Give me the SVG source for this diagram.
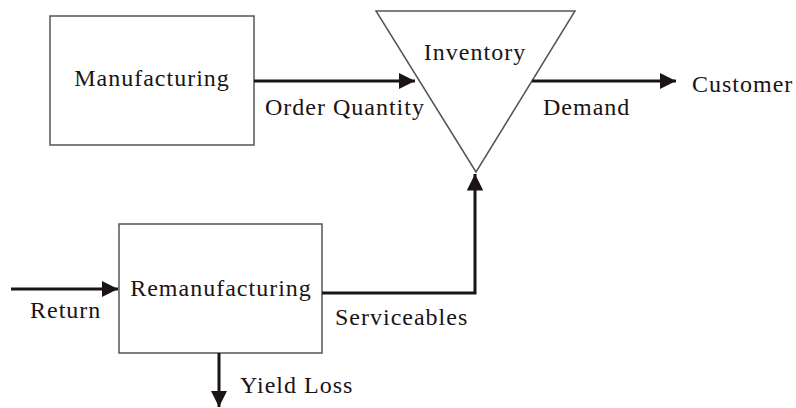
<svg xmlns="http://www.w3.org/2000/svg" width="796" height="408" viewBox="0 0 796 408">
  <style>
    .box { fill: #fff; stroke: #555; stroke-width: 1.5; }
    .flow { fill: none; stroke: #1a1414; stroke-width: 3; }
    .lbl { font-family: "Liberation Serif", "Times New Roman", serif; font-size: 24px; letter-spacing: 1px; fill: #1a1414; }
  </style>
  <defs>
    <marker id="head" viewBox="0 0 10 10" refX="10" refY="5" markerWidth="5.5" markerHeight="5.5" orient="auto" markerUnits="strokeWidth">
      <path d="M0,0 L10,5 L0,10 z" fill="#1a1414"/>
    </marker>
  </defs>
  <rect width="796" height="408" fill="#fff"/>

  <g id="manufacturing">
    <rect class="box" x="50" y="16" width="204" height="129"/>
    <text class="lbl" x="152" y="86" text-anchor="middle">Manufacturing</text>
  </g>

  <g id="inventory">
    <polygon class="box" points="376,11 575,11 476,172"/>
    <text class="lbl" x="475" y="60" text-anchor="middle">Inventory</text>
  </g>

  <g id="remanufacturing">
    <rect class="box" x="119" y="224" width="203" height="129"/>
    <text class="lbl" x="221" y="296" text-anchor="middle">Remanufacturing</text>
  </g>

  <g id="customer">
    <text class="lbl" x="692" y="92">Customer</text>
  </g>

  <g id="connectors">
    <line class="flow" x1="254" y1="81" x2="415" y2="81" marker-end="url(#head)"/>
    <text class="lbl" x="265" y="115">Order Quantity</text>

    <line class="flow" x1="532" y1="81" x2="676" y2="81" marker-end="url(#head)"/>
    <text class="lbl" x="543" y="115">Demand</text>

    <line class="flow" x1="11" y1="289" x2="118" y2="289" marker-end="url(#head)"/>
    <text class="lbl" x="30" y="318">Return</text>

    <polyline class="flow" points="322,293 475,293 475,174" marker-end="url(#head)"/>
    <text class="lbl" x="335" y="325">Serviceables</text>

    <line class="flow" x1="219" y1="353" x2="219" y2="407" marker-end="url(#head)"/>
    <text class="lbl" x="240" y="393">Yield Loss</text>
  </g>
</svg>
